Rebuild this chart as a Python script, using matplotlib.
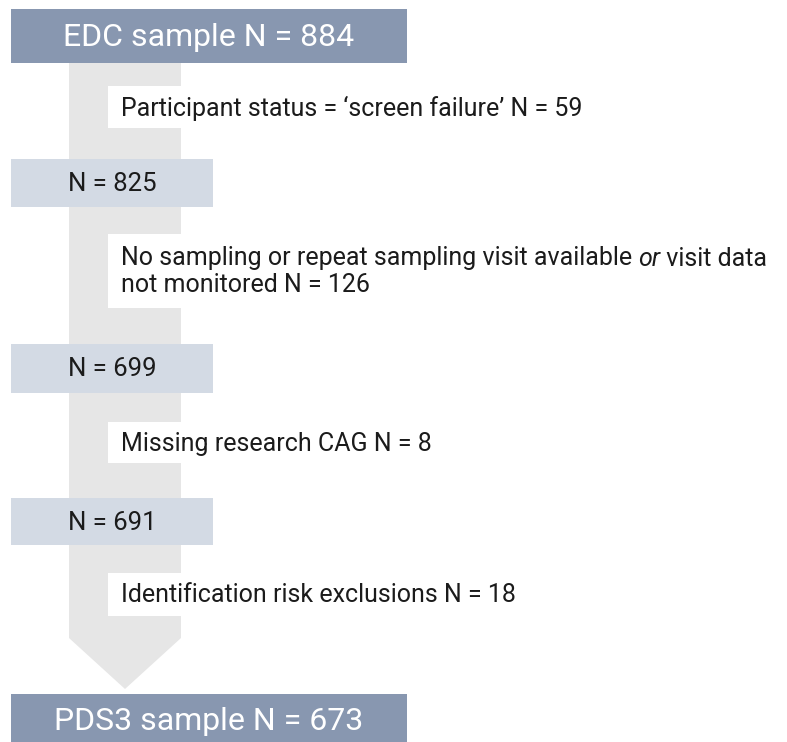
import matplotlib.pyplot as plt
from matplotlib.patches import Rectangle, Polygon

# flow data
start_label = "EDC sample"
end_label = "PDS3 sample"
counts = [884, 825, 699, 691, 673]
excl_counts = [59, 126, 8, 18]
excl_text = [
    ["Participant status = \u2018screen failure\u2019 N = {}"],
    ["No sampling or repeat sampling visit available |or| visit data", "not monitored N = {}"],
    ["Missing research CAG N = {}"],
    ["Identification risk exclusions N = {}"],
]

plt.rcParams['font.family'] = ['Roboto', 'DejaVu Sans']

W, H = 787, 742
fig = plt.figure(figsize=(W / 100, H / 100), dpi=100)
ax = fig.add_axes([0, 0, 1, 1])
ax.set_xlim(0, W)
ax.set_ylim(H, 0)
ax.axis('off')

dark = '#8897b0'
light = '#d3dae4'
grey = '#e6e6e6'
txt = '#1b1b1b'

# big grey arrow behind everything
ax.add_patch(Polygon([(69, 60), (181, 60), (181, 638), (125, 689), (69, 638)],
                     closed=True, fc=grey, ec='none', zorder=0))

# top and bottom boxes
ax.add_patch(Rectangle((11, 9), 396, 54, fc=dark, ec='none', zorder=2))
ax.text(209, 37, f"{start_label} N = {counts[0]}", ha='center', va='center',
        fontsize=23, color='white', zorder=3)
ax.add_patch(Rectangle((11, 694), 396, 60, fc=dark, ec='none', zorder=2))
ax.text(209, 721, f"{end_label} N = {counts[-1]}", ha='center', va='center',
        fontsize=23, color='white', zorder=3)

# intermediate N boxes
mid_boxes = [(159, 207), (344, 393), (498, 545)]
for (y0, y1), n in zip(mid_boxes, counts[1:4]):
    ax.add_patch(Rectangle((11, y0), 202, y1 - y0, fc=light, ec='none', zorder=2))
    ax.text(112, (y0 + y1) / 2 + 1, f"N = {n}", ha='center', va='center',
            fontsize=18.5, color=txt, zorder=3)

# exclusion boxes (white, over the arrow)
white_boxes = [(86, 128), (234, 308), (422, 463), (573, 616)]
fig.canvas.draw()
renderer = fig.canvas.get_renderer()
for (y0, y1), lines, n in zip(white_boxes, excl_text, excl_counts):
    ax.add_patch(Rectangle((108, y0), 670, y1 - y0, fc='white', ec='none', zorder=2))
    nl = len(lines)
    lh = 27
    ymid = (y0 + y1) / 2 + 1
    for i, line in enumerate(lines):
        y = ymid + (i - (nl - 1) / 2) * lh
        line = line.format(n)
        x = 121
        for j, part in enumerate(line.split('|')):
            if not part:
                continue
            t = ax.text(x, y, part, ha='left', va='center', fontsize=18,
                        color=txt, style='italic' if j % 2 else 'normal', zorder=3)
            bb = t.get_window_extent(renderer)
            x += bb.width

fig.savefig('out.png', dpi=100)
